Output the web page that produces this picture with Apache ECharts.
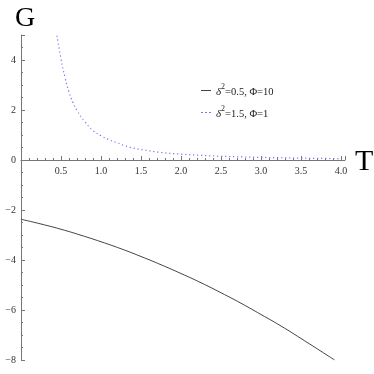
<!DOCTYPE html>
<html>
<head>
<meta charset="utf-8">
<script src="https://cdn.jsdelivr.net/npm/echarts@6/dist/echarts.min.js"></script>
<style>
  html, body { margin: 0; padding: 0; background: #fff; }
  #chart { width: 374px; height: 374px; }
</style>
</head>
<body>
<div id="chart"></div>
<script>
// solid curve: delta^2 = 0.5, Phi = 10
const solidT = [0, 0.25, 0.5, 0.75, 1.0, 1.25, 1.5, 1.75, 2.0, 2.25, 2.5, 2.75, 3.0, 3.25, 3.5, 3.75, 3.92];
const solidG = [-2.37, -2.56, -2.77, -3.01, -3.27, -3.55, -3.86, -4.19, -4.54, -4.91, -5.31, -5.73, -6.18, -6.64, -7.14, -7.65, -8.0];

// dotted curve: delta^2 = 1.5, Phi = 1
const dotT = [0.45, 0.5, 0.55, 0.6, 0.65, 0.7, 0.8, 0.9, 1.0, 1.1, 1.2, 1.3, 1.4, 1.5, 1.75, 2.0, 2.25, 2.5, 2.75, 3.0, 3.25, 3.5, 3.75, 4.0];
const dotG = [4.97, 4.05, 3.3, 2.72, 2.3, 1.98, 1.53, 1.18, 0.97, 0.81, 0.69, 0.57, 0.48, 0.42, 0.3, 0.235, 0.185, 0.15, 0.125, 0.105, 0.09, 0.075, 0.065, 0.055];

const seriesNames = ["s1", "s2"];
const xTickLabels = ["0.5", "1.0", "1.5", "2.0", "2.5", "3.0", "3.5", "4.0"];

const serif = "Liberation Serif";
const solidColor = "#444";
const dotColor = "#7676f0";

function pairs(xs, ys) {
  return xs.map((x, i) => [x, ys[i]]);
}

const chart = echarts.init(document.getElementById("chart"));
chart.setOption({
  animation: false,
  backgroundColor: "#fff",
  grid: { left: 21, right: 29, top: 35, bottom: 14 },
  title: [
    { text: "G", left: 10, top: 0, textStyle: { fontFamily: serif, fontSize: 28, fontWeight: "normal", color: "#000" } },
    { text: "T", left: 350, top: 142, textStyle: { fontFamily: serif, fontSize: 30, fontWeight: "normal", color: "#000" } }
  ],
  legend: {
    orient: "vertical",
    left: 196,
    top: 78,
    itemWidth: 10,
    itemHeight: 1,
    itemGap: 7,
    data: [
      { name: seriesNames[0], icon: "rect", itemStyle: { color: solidColor } },
      { name: seriesNames[1], icon: "path://M0,0h2v1h-2z M4,0h2v1h-2z M8,0h2v1h-2z", itemStyle: { color: dotColor } }
    ],
    formatter: function (name) {
      return name === "s1"
        ? "{d|δ}{sup|2}{t|=0.5, Φ=10}"
        : "{d|δ}{sup|2}{t|=1.5, Φ=1}";
    },
    textStyle: {
      fontFamily: serif,
      color: "#222",
      rich: {
        d: { fontFamily: serif, fontSize: 11, fontStyle: "italic", color: "#222", padding: [4, 0, 0, 0] },
        sup: { fontFamily: serif, fontSize: 8, color: "#222", verticalAlign: "top", padding: [0, 0, 4, 0] },
        t: { fontFamily: serif, fontSize: 10.5, color: "#222", padding: [4, 0, 0, 0] }
      }
    }
  },
  xAxis: {
    type: "value",
    min: 0,
    max: 4.05,
    interval: 0.5,
    position: "bottom",
    offset: -200,
    axisLine: { onZero: false, lineStyle: { color: "#777", width: 1 } },
    axisTick: { inside: true, length: 4, lineStyle: { color: "#777" } },
    minorTick: { show: true, splitNumber: 5, length: 2, lineStyle: { color: "#777" } },
    axisLabel: {
      fontFamily: serif,
      fontSize: 10,
      color: "#333",
      margin: 6,
      formatter: function (v) {
        const s = v.toFixed(1);
        return xTickLabels.indexOf(s) >= 0 && Math.abs(v * 2 - Math.round(v * 2)) < 1e-6 ? s : "";
      }
    },
    splitLine: { show: false }
  },
  yAxis: {
    type: "value",
    min: -8,
    max: 5,
    interval: 2,
    axisLine: { show: true, onZero: false, lineStyle: { color: "#777", width: 1 } },
    axisTick: { show: true, inside: true, length: 4, lineStyle: { color: "#777" } },
    minorTick: { show: true, splitNumber: 4, length: 2, lineStyle: { color: "#777" } },
    axisLabel: {
      fontFamily: serif,
      fontSize: 10,
      color: "#333",
      margin: 5,
      formatter: function (v) {
        if (v % 2 !== 0) return "";
        return v < 0 ? "\u2212" + Math.abs(v) : String(v);
      }
    },
    splitLine: { show: false }
  },
  series: [
    {
      name: seriesNames[0],
      type: "line",
      symbol: "none",
      smooth: true,
      data: pairs(solidT, solidG),
      lineStyle: { color: solidColor, width: 1 },
      itemStyle: { color: solidColor }
    },
    {
      name: seriesNames[1],
      type: "line",
      symbol: "none",
      smooth: true,
      data: pairs(dotT, dotG),
      lineStyle: { color: dotColor, width: 1.2, type: [1.2, 2.8] },
      itemStyle: { color: dotColor }
    }
  ]
});
</script>
</body>
</html>
